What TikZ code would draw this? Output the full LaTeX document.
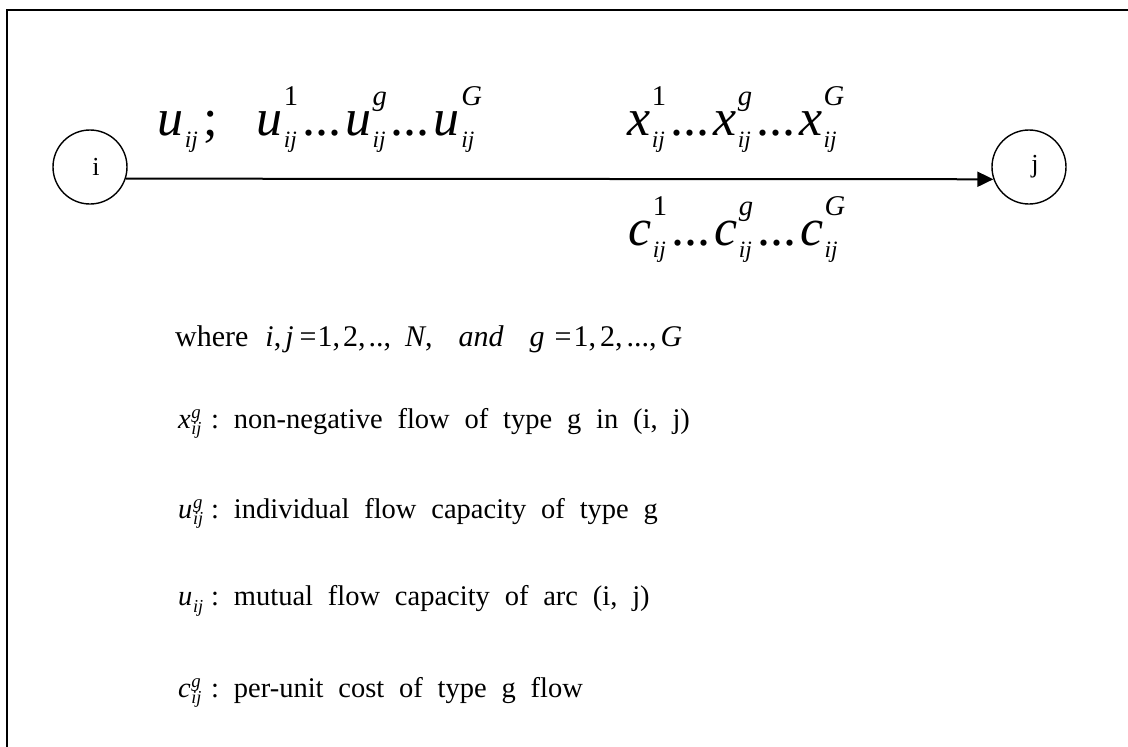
\documentclass[tikz,border=0pt]{standalone}
\usepackage{fontspec}
\setmainfont{Liberation Serif}
\usetikzlibrary{arrows.meta}
\newcommand{\mi}[1]{\textit{#1}}
\makeatletter
% stacked super/subscript built from text, sizes relative to current font
\newcommand{\scr}[2]{%
  \begingroup
  \dimen@=1em
  \edef\sz@a{\the\dimexpr\supf\dimen@\relax}%
  \edef\sz@b{\the\dimexpr\subf\dimen@\relax}%
  \dimen2=\upf\dimen@ \dimen4=\dnf\dimen@ \dimen6=\gapf\dimen@
  \setbox0=\hbox{\fontsize{\sz@a}{\sz@a}\selectfont #1}%
  \setbox2=\hbox{\fontsize{\sz@b}{\sz@b}\selectfont #2}%
  \ifdim\wd0>\wd2 \dimen8=\wd0 \else \dimen8=\wd2 \fi
  \kern\dimen6
  \hbox to \dimen8{\rlap{\raise\dimen2\box0}\lower\dimen4\box2\hfil}%
  \endgroup}
\makeatother
\newcommand{\bigset}{\fontsize{52}{60}\selectfont
  \def\supf{0.55}\def\subf{0.45}\def\upf{0.57}\def\dnf{0.24}\def\gapf{0.03}}
\newcommand{\legset}{\fontsize{28.5}{32}\selectfont\spaceskip=0.52em plus 0.1em
  \def\supf{0.66}\def\subf{0.64}\def\upf{0.35}\def\dnf{0.24}\def\gapf{0.02}}
\newcommand{\dd}{\kern4pt...\kern4pt}
\newcommand{\lhead}[1]{\makebox[33pt][l]{#1}:\ }
\begin{document}
\begin{tikzpicture}[x=1pt,y=1pt,
  vertex/.style={circle,draw,line width=1.4pt,minimum size=74pt,inner sep=0pt,
    font=\fontsize{26}{30}\selectfont},
  biglab/.style={anchor=base west,inner sep=0pt,font=\bigset},
  legend/.style={anchor=base west,inner sep=0pt,font=\legset},
  flow/.style={line width=2pt,-{Triangle[length=16pt,width=15pt]}}]
\useasboundingbox (0,0) rectangle (1128,-747);
\draw[line width=2pt] (7,-760) -- (7,-10) -- (1140,-10);
\node[vertex] (i) at (90,-167) {\hspace*{12pt}i};
\node[vertex] (j) at (1029,-167) {\hspace*{12pt}j};
\draw[flow] (i.-18.9) -- (j.-161.1);
\node[biglab] (ulab) at (157,-135) {\mi{u}\scr{}{\mi{ij}}\kern6pt;\hspace{38pt}\mi{u}\scr{1}{\mi{ij}}\dd\mi{u}\scr{\mi{g}}{\mi{ij}}\dd\mi{u}\scr{\mi{G}}{\mi{ij}}};
\node[biglab] (xlab) at (627,-135) {\mi{x}\scr{1}{\mi{ij}}\dd\mi{x}\scr{\mi{g}}{\mi{ij}}\dd\mi{x}\scr{\mi{G}}{\mi{ij}}};
\node[biglab] (clab) at (628,-245) {\mi{c}\scr{1}{\mi{ij}}\dd\mi{c}\scr{\mi{g}}{\mi{ij}}\dd\mi{c}\scr{\mi{G}}{\mi{ij}}};
\node[anchor=base west,inner sep=0pt,font=\fontsize{30}{34}\selectfont] (where) at (175,-346)
  {where\hspace{17pt}\mi{i},\hspace{4pt}\mi{j}\hspace{6pt}=\hspace{1pt}1,\kern3pt2,\kern3pt..,\hspace{14pt}\mi{N},\hspace{26pt}\mi{and}\hspace{26pt}\mi{g}\hspace{10pt}=\hspace{2pt}1,\kern4pt2,\kern4pt...,\kern4pt\mi{G}};
\node[legend] (lx) at (178,-428) {\lhead{\mi{x}\scr{\mi{g}}{\mi{ij}}}non-negative flow of type g in (i, j)};
\node[legend] (lu) at (178,-518) {\lhead{\mi{u}\scr{\mi{g}}{\mi{ij}}}individual flow capacity of type g};
\node[legend] (luij) at (178,-605) {\lhead{\mi{u}{\def\dnf{0.28}\scr{}{\mi{ij}}}}mutual flow capacity of arc (i, j)};
\node[legend] (lc) at (178,-697) {\lhead{\mi{c}\scr{\mi{g}}{\mi{ij}}}per-unit cost of type g flow};
\end{tikzpicture}
\end{document}
